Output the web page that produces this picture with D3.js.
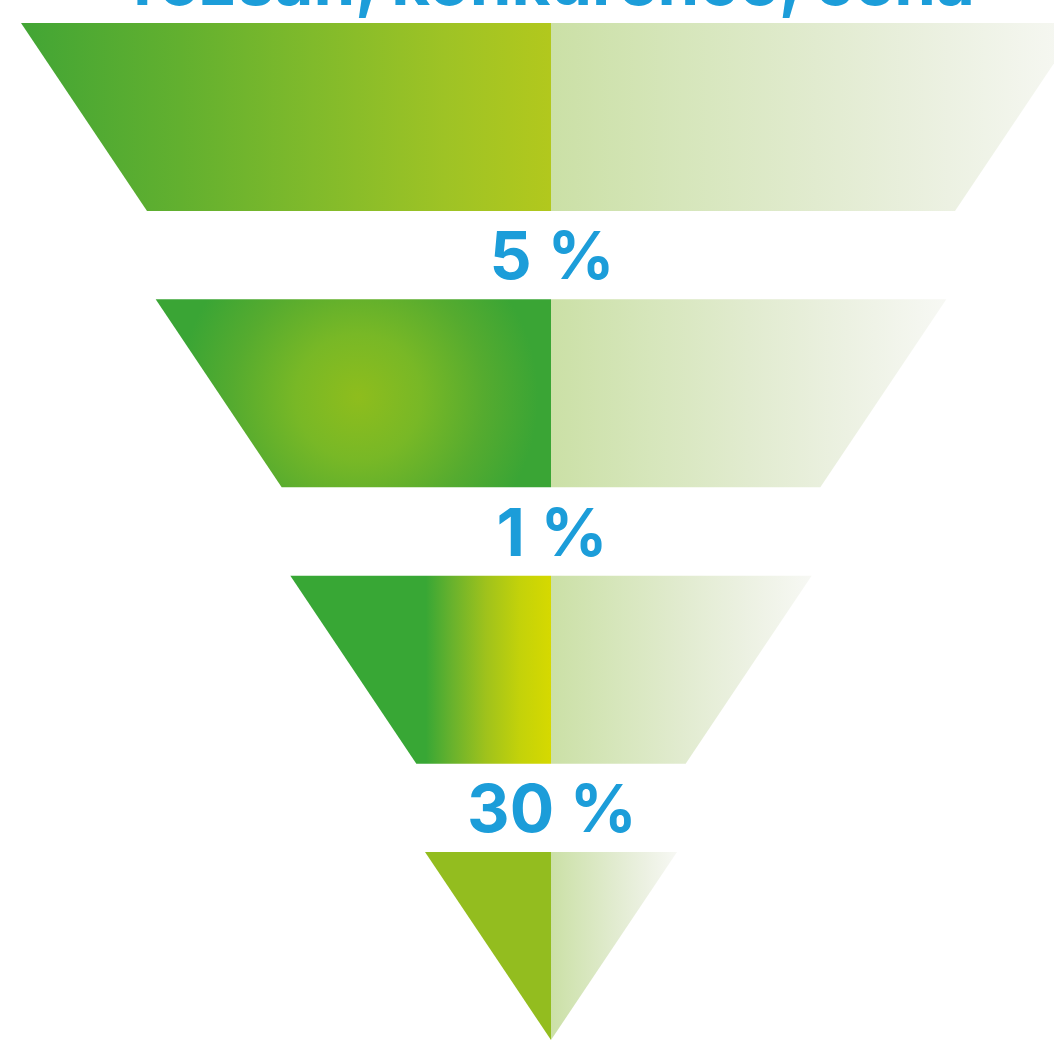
<!DOCTYPE html>
<html lang="cs">
<meta charset="utf-8">
<style>
  html, body { margin: 0; padding: 0; background: #fff; }
  svg { display: block; }
</style>
<body>
<div id="funnel"></div>

<script src="https://d3js.org/d3.v7.min.js"></script>
<script>

// data
var title = "rozsah, konkurence, cena";
var stages = ["s1", "s2", "s3", "s4"];
var rates = ["5 %", "1 %", "30 %"];

var width = 1054, height = 1040, cx = 551;
var blue = "#1c9dd9";

var svg = d3.select("#funnel")
  .append("svg")
    .attr("width", width)
    .attr("height", height);

// vertical bands for the stages, gaps hold the conversion rates
var y = d3.scaleBand()
  .domain(stages)
  .range([23, height])
  .paddingInner(0.32);

// half width at the top edge of each stage
var topW = d3.scaleLinear()
  .domain([0, stages.length - 1])
  .range([530, 126]);
var drop = topW(stages.length - 1);   // every stage narrows by this much
function botW(i) { return topW(i) - drop; }

var defs = svg.append("defs");

function linear(id, stops) {
  var g = defs.append("linearGradient").attr("id", id)
    .attr("x1", 0).attr("x2", 1).attr("y1", 0).attr("y2", 0);
  stops.forEach(function(s) {
    g.append("stop").attr("offset", s[0]).attr("stop-color", s[1]);
  });
}

// left halves
linear("left0", [[0, "#42a535"], [0.3, "#62b02f"], [0.55, "#80ba2b"], [0.8, "#9ec325"], [1, "#b2c81d"]]);
linear("left2", [[0, "#38a735"], [0.52, "#38a735"], [0.62, "#68b22d"], [0.75, "#9fc21c"], [0.88, "#c3d20a"], [1, "#d6d900"]]);
linear("left3", [[0, "#93bd1f"], [1, "#93bd1f"]]);
// right halves (pale)
var pale = [[0, "#cbe0a6"], [0.25, "#d6e6bb"], [0.5, "#e1ebcf"], [0.75, "#ecf1e2"], [1, "#f7f8f4"]];
stages.forEach(function(s, i) { linear("right" + i, pale); });

// radial glow in the second stage
var r1 = defs.append("radialGradient").attr("id", "left1")
  .attr("gradientUnits", "userSpaceOnUse")
  .attr("cx", cx - (topW(1) + botW(1)) / 2 * 0.58)
  .attr("cy", y("s2") + y.bandwidth() * 0.52)
  .attr("r", 180);
[[0, "#8ebd1d"], [0.35, "#78b826"], [0.7, "#55ab2f"], [1, "#3aa535"]].forEach(function(s) {
  r1.append("stop").attr("offset", s[0]).attr("stop-color", s[1]);
});

var line = d3.line();

var seg = svg.selectAll("g.stage")
  .data(stages)
  .enter()
  .append("g")
    .attr("class", "stage");

seg.append("path")
  .attr("d", function(d, i) {
    var t = y(d), b = y(d) + y.bandwidth();
    return line([[cx - topW(i), t], [cx, t], [cx, b], [cx - botW(i), b]]) + "Z";
  })
  .attr("fill", function(d, i) { return "url(#left" + i + ")"; });

seg.append("path")
  .attr("d", function(d, i) {
    var t = y(d), b = y(d) + y.bandwidth();
    return line([[cx, t], [cx + topW(i), t], [cx + botW(i), b], [cx, b]]) + "Z";
  })
  .attr("fill", function(d, i) { return "url(#right" + i + ")"; });

// conversion rates in the gaps
svg.selectAll("text.rate")
  .data(rates)
  .enter()
  .append("text")
    .attr("class", "rate")
    .attr("x", cx + 1)
    .attr("y", function(d, i) {
      var gapTop = y(stages[i]) + y.bandwidth();
      var gapBot = y(stages[i + 1]);
      return (gapTop + gapBot) / 2 + 24;
    })
    .attr("text-anchor", "middle")
    .style("font-family", "Inter, 'Open Sans', sans-serif")
    .style("font-weight", 700)
    .style("font-size", "66px")
    .style("fill", blue)
    .text(function(d) { return d; });

// title, mostly cut off by the top edge
svg.append("text")
  .attr("x", cx + 3)
  .attr("y", 5)
  .attr("text-anchor", "middle")
  .style("font-family", "Inter, 'Open Sans', sans-serif")
  .style("font-weight", 700)
  .style("font-size", "67px")
  .style("fill", blue)
  .text(title);

</script>
</body>
</html>
